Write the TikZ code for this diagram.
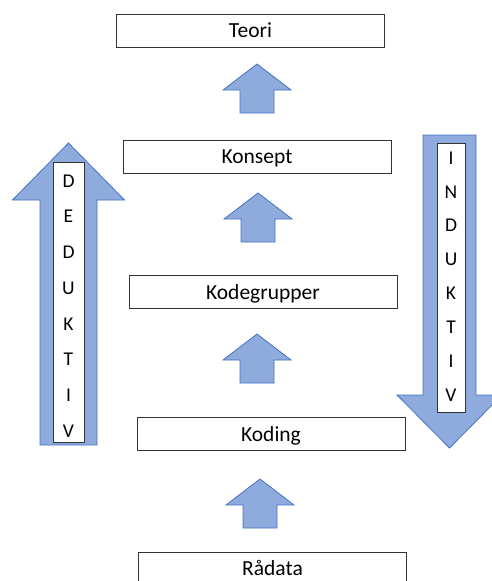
\documentclass[tikz,border=0pt]{standalone}
\usepackage{fontspec}
\setmainfont{Carlito}
\usepackage{xcolor}
\definecolor{arrowfill}{HTML}{8FAADC}
\definecolor{arrowline}{HTML}{4472C4}

\begin{document}
\begin{tikzpicture}[x=1pt, y=-1pt,
  box/.style={rectangle, draw=black!80, line width=0.8pt, fill=white,
              minimum width=268pt, minimum height=33pt, inner sep=0pt,
              text height=14pt, text depth=0pt,
              font=\fontsize{21.5}{25}\selectfont},
  blockarrow/.style={fill=arrowfill, draw=arrowline, line width=0.8pt},
  strip/.style={rectangle, draw=black!80, line width=0.8pt, fill=white,
                inner sep=0pt},
  letter/.style={inner sep=0pt, font=\fontsize{19.5}{24}\selectfont},
  uparrow/.pic={\draw[blockarrow] (0,0) -- (34,26) -- (17,26) -- (17,49)
                -- (-17,49) -- (-17,26) -- (-34,26) -- cycle;}
]
  \clip (0,0) rectangle (492,581);

  % steps of the analysis
  \node[box] (teori)  at (250.5,30.5) {Teori};
  \node[box] (konsept) at (257,156.5) {Konsept};
  \node[box] (kodegr) at (263,292) {Kodegrupper};
  \node[box] (koding) at (271,434) {Koding};
  \node[box] (raadata) at (272.5,568.5) {Rådata};

  \pic (a1) at (257,64) {uparrow};
  \pic (a2) at (258,193) {uparrow};
  \pic (a3) at (257,334) {uparrow};
  \pic (a4) at (260,479) {uparrow};

  % deduktiv, up
  \draw[blockarrow] (68.5,143) -- (124.5,200) -- (97,200) -- (97,445)
    -- (40,445) -- (40,200) -- (12.5,200) -- cycle;
  \node[strip, minimum width=31pt, minimum height=280pt] (dedstrip) at (68.5,302) {};
  \foreach \ch [count=\i from 0] in {D,E,D,U,K,T,I,V}
    \node[letter] (ded\i) at (68.5,{181+35.7*\i}) {\ch};

  % induktiv, down
  \draw[blockarrow] (423,135) -- (476,135) -- (476,395) -- (502,395)
    -- (449.5,448) -- (397,395) -- (423,395) -- cycle;
  \node[strip, minimum width=28pt, minimum height=269pt] (indstrip) at (451,277.5) {};
  \foreach \ch [count=\i from 0] in {I,N,D,U,K,T,I,V}
    \node[letter] (ind\i) at (451,{158+33.86*\i}) {\ch};
\end{tikzpicture}
\end{document}
